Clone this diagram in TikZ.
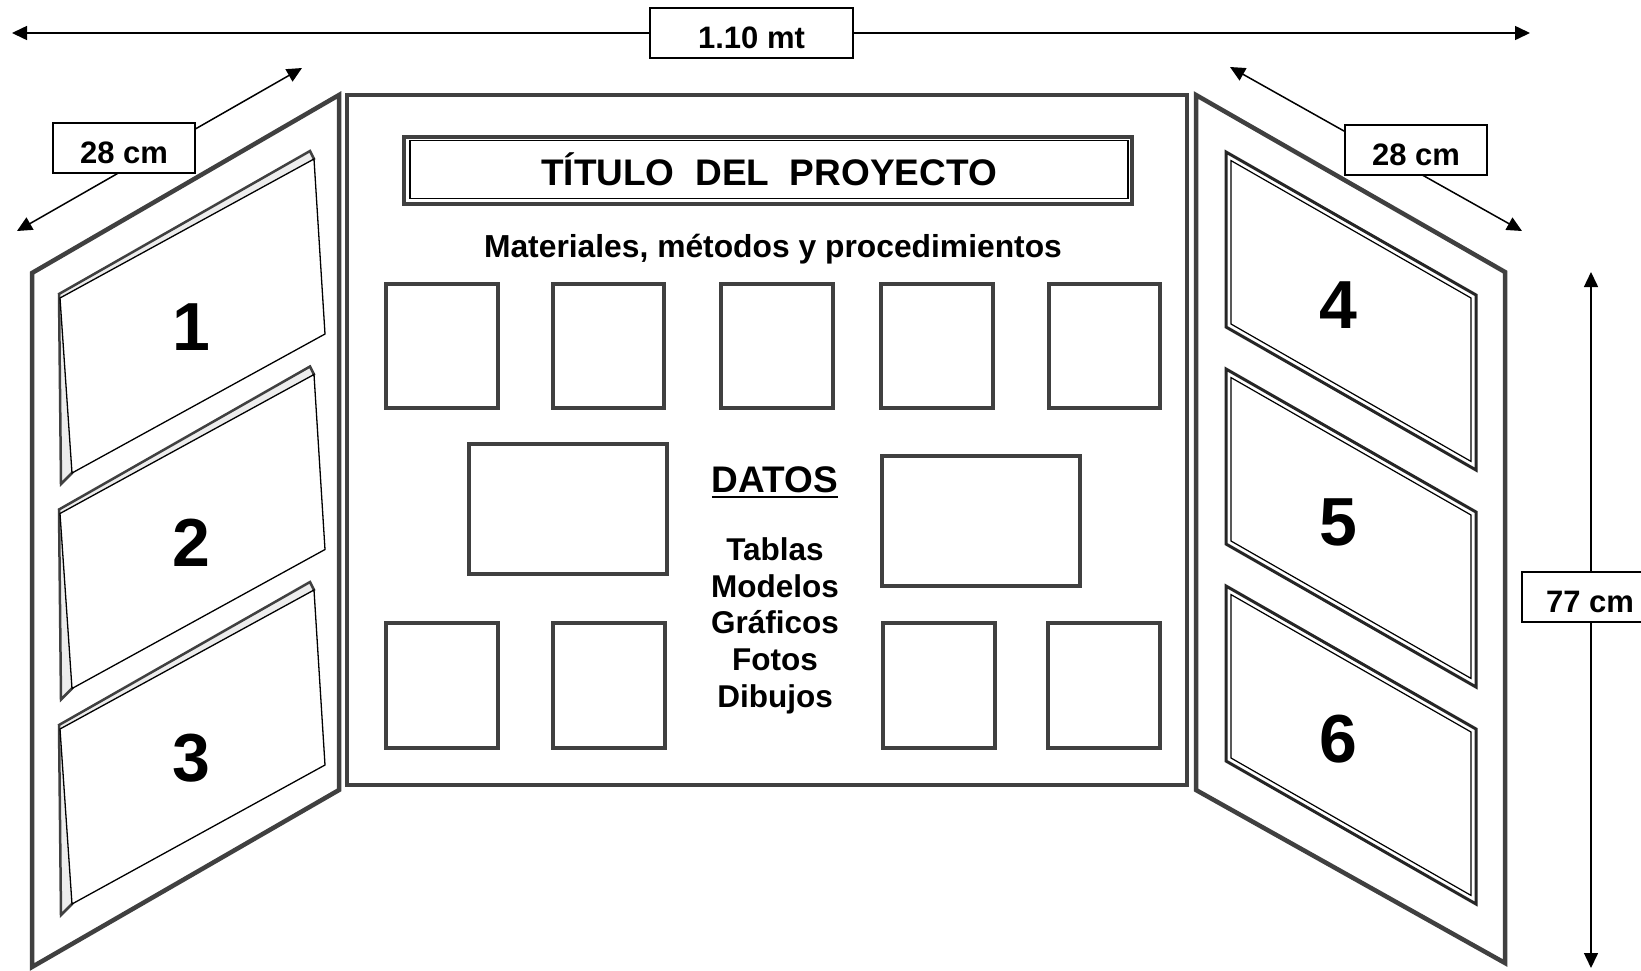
\documentclass[tikz,border=0pt]{standalone}
\usepackage{fontspec}
\setmainfont{Liberation Sans}
\usetikzlibrary{arrows.meta}
\definecolor{edge}{gray}{0.25}
\tikzset{
  dimline/.style={line width=1.5pt, {Triangle[length=15pt,width=14pt]}-{Triangle[length=15pt,width=14pt]}},
  dimlabel/.style={draw, line width=1.4pt, fill=white, minimum width=#1, minimum height=50pt, inner sep=0pt,
    text height=30pt, text depth=0pt, font=\fontsize{31}{31}\selectfont\bfseries},
  dimlabel/.default=142pt,
  panel/.style={draw=edge, line width=4.5pt, line join=miter, fill=white},
  picbox/.style={draw=edge, line width=3.5pt},
  backing/.style={draw=edge, line width=2.5pt, fill=black!7, line join=miter},
  card/.style={draw=black, line width=1.3pt, fill=white, line join=miter},
  frameout/.style={draw=black!85, line width=3pt, fill=white, line join=miter},
  framein/.style={draw=black, line width=1.2pt, line join=miter},
  numtxt/.style={font=\fontsize{68}{68}\selectfont\bfseries, inner sep=0pt},
  bodytxt/.style={font=\fontsize{31.5}{31.5}\selectfont\bfseries, inner sep=0pt, anchor=base}
}
\begin{document}
\begin{tikzpicture}[x=1pt,y=-1pt]
\useasboundingbox (0,0) rectangle (1641,970);
\clip (0,0) rectangle (1641,970);

% side panels and centre panel
\draw[panel] (32,273) -- (339,95) -- (339,790) -- (32,967) -- cycle;
\draw[panel] (1196,95) -- (1505,272) -- (1505,963) -- (1196,790) -- cycle;
\draw[panel] (347,95) rectangle (1187,785);

% title box
\draw[draw=edge, line width=4.5pt] (404,137) rectangle (1132,204);
\draw[line width=1.5pt] (410,140.5) rectangle (1128,198.5);
\node[font=\fontsize{37}{37}\selectfont\bfseries, inner sep=0pt, anchor=base] (title) at (769,185) {TÍTULO\ \ DEL\ \ PROYECTO};
\node[font=\fontsize{31.8}{31.8}\selectfont\bfseries, inner sep=0pt, anchor=base] (mat) at (773,257) {Materiales, métodos y procedimientos};

% picture boxes, top row
\foreach \a/\b in {386/498, 553/664, 721/833, 881/993, 1049/1160}
  \draw[picbox] (\a,284) rectangle (\b,408);
% bottom row
\foreach \a/\b in {386/498, 553/665, 883/995, 1048/1160}
  \draw[picbox] (\a,623) rectangle (\b,748);
% large boxes
\draw[picbox] (469,444) rectangle (667,574);
\draw[picbox] (882,456) rectangle (1080,586);

% DATOS block
\node[font=\fontsize{37}{37}\selectfont\bfseries, inner sep=0pt, anchor=base] (datos) at (775,492) {DATOS};
\draw[line width=2.6pt] ([yshift=-5pt]datos.base west) -- ([yshift=-5pt]datos.base east);
\node[bodytxt] (t1) at (775,560) {Tablas};
\node[bodytxt] (t2) at (775,597) {Modelos};
\node[bodytxt] (t3) at (775,633) {Gráficos};
\node[bodytxt] (t4) at (775,670) {Fotos};
\node[bodytxt] (t5) at (775,707) {Dibujos};

% left pockets
\foreach \t/\n in {298/1, 513.5/2, 729/3}{
  \draw[backing] (61,{\t+186}) -- (59,{\t-4}) -- (310,{\t-147}) -- (314,{\t-139}) -- (72,{\t+175}) -- cycle;
  \draw[card] (60,\t) -- (314,{\t-139}) -- (325,{\t+36}) -- (72,{\t+175}) -- cycle;
  \node[numtxt] (n\n) at (191,{\t+29}) {\n};
}

% right pockets
\foreach \y/\n in {152/4, 369/5, 586/6}{
  \draw[frameout] (1226,\y) -- (1476,{\y+143}) -- (1476,{\y+318}) -- (1226,{\y+175}) -- cycle;
  \draw[framein] (1231,{\y+8.6}) -- (1471,{\y+146}) -- (1471,{\y+309.4}) -- (1231,{\y+172}) -- cycle;
  \node[numtxt] (n\n) at (1338,{\y+153}) {\n};
}

% dimensions
\coordinate (wL) at (12,33);
\coordinate (wR) at (1530,33);
\draw[dimline] (wL) -- (wR);
\node[dimlabel=203pt] (w) at (751.5,33) {1.10 mt};

\coordinate (dl1) at (17,231);
\coordinate (dl2) at (302,68);
\draw[dimline] (dl1) -- (dl2);
\node[dimlabel] (dl) at (124,148) {28 cm};

\coordinate (dr1) at (1230,67);
\coordinate (dr2) at (1522,231);
\draw[dimline] (dr1) -- (dr2);
\node[dimlabel] (dr) at (1416,150) {28 cm};

\coordinate (h1) at (1591,272);
\coordinate (h2) at (1591,968);
\draw[dimline] (h1) -- (h2);
\node[dimlabel=136pt] (hl) at (1590,597) {77 cm};
\end{tikzpicture}
\end{document}
